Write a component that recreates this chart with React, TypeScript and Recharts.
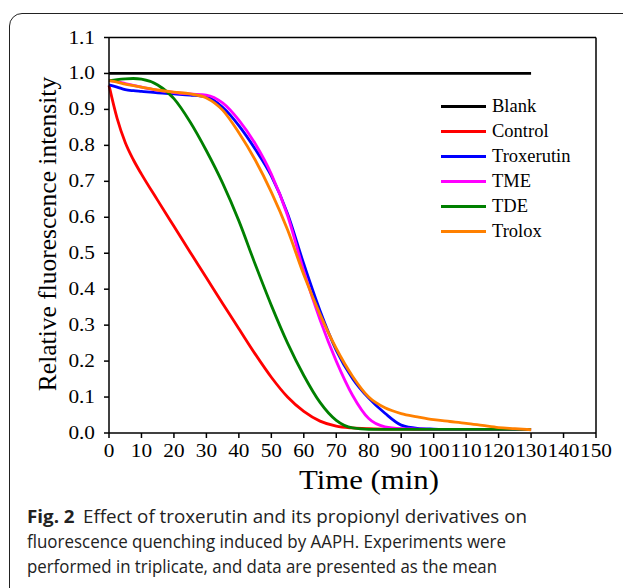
import React from "react";
import { LineChart, Line, XAxis, YAxis, ReferenceLine } from "recharts";

// time points (min)
const times = [0, 2.5, 5, 7.5, 10, 15, 20, 25, 30, 35, 40, 45, 50, 55, 60, 65, 70, 75, 80, 85, 90, 95, 100, 105, 110, 115, 120, 125, 130];

// relative fluorescence intensity
const blank = [1, 1, 1, 1, 1, 1, 1, 1, 1, 1, 1, 1, 1, 1, 1, 1, 1, 1, 1, 1, 1, 1, 1, 1, 1, 1, 1, 1, 1];
const control = [0.967, 0.875, 0.808, 0.76, 0.72, 0.647, 0.575, 0.503, 0.432, 0.36, 0.29, 0.22, 0.155, 0.1, 0.06, 0.033, 0.019, 0.014, 0.012, 0.011, 0.011, 0.01, 0.01, 0.01, 0.01, 0.01, 0.01, 0.01, 0.01];
const troxerutin = [0.968, 0.962, 0.955, 0.952, 0.95, 0.946, 0.943, 0.94, 0.935, 0.906, 0.855, 0.79, 0.715, 0.61, 0.47, 0.34, 0.23, 0.152, 0.097, 0.055, 0.022, 0.013, 0.011, 0.01, 0.01, 0.01, 0.01, 0.01, 0.01];
const tme = [0.98, 0.977, 0.972, 0.967, 0.962, 0.953, 0.947, 0.943, 0.94, 0.918, 0.87, 0.805, 0.72, 0.605, 0.45, 0.315, 0.2, 0.105, 0.04, 0.017, 0.012, 0.011, 0.01, 0.01, 0.01, 0.01, 0.01, 0.01, 0.01];
const tde = [0.98, 0.983, 0.985, 0.986, 0.984, 0.968, 0.93, 0.865, 0.785, 0.695, 0.59, 0.47, 0.355, 0.25, 0.16, 0.085, 0.035, 0.014, 0.01, 0.01, 0.01, 0.01, 0.01, 0.01, 0.01, 0.01, 0.01, 0.01, 0.01];
const trolox = [0.98, 0.976, 0.97, 0.966, 0.962, 0.954, 0.948, 0.943, 0.932, 0.898, 0.835, 0.76, 0.67, 0.565, 0.44, 0.33, 0.235, 0.158, 0.1, 0.07, 0.054, 0.045, 0.037, 0.032, 0.027, 0.021, 0.015, 0.012, 0.009];

const xTicks = [0, 10, 20, 30, 40, 50, 60, 70, 80, 90, 100, 110, 120, 130, 140, 150];
const yTicks = [0, 0.1, 0.2, 0.3, 0.4, 0.5, 0.6, 0.7, 0.8, 0.9, 1.0, 1.1];

const captionLines = [
  "Effect of troxerutin and its propionyl derivatives on",
  "fluorescence quenching induced by AAPH. Experiments were",
  "performed in triplicate, and data are presented as the mean",
];

const series = [
  { key: "blank", name: "Blank", color: "#000000" },
  { key: "control", name: "Control", color: "#ff0000" },
  { key: "troxerutin", name: "Troxerutin", color: "#0000ff" },
  { key: "tme", name: "TME", color: "#ff00ff" },
  { key: "tde", name: "TDE", color: "#008000" },
  { key: "trolox", name: "Trolox", color: "#ff8000" },
];

const data = times.map((t, i) => ({
  t,
  blank: blank[i],
  control: control[i],
  troxerutin: troxerutin[i],
  tme: tme[i],
  tde: tde[i],
  trolox: trolox[i],
}));

const serif = "'Liberation Serif', 'Times New Roman', serif";
const sans = "'Open Sans', 'Noto Sans', sans-serif";

// the original's tick labels are a little wider than plain Times
const XTick = (props: any) => {
  const { x, y, payload } = props;
  return (
    <text transform={`translate(${x},${y + 15}) scale(1.12,1)`} textAnchor="middle" fontFamily={serif} fontSize={19} fill="#000">
      {payload.value}
    </text>
  );
};

const YTick = (props: any) => {
  const { x, y, payload } = props;
  return (
    <text transform={`translate(${x},${y + 6}) scale(1.12,1)`} textAnchor="end" fontFamily={serif} fontSize={19} fill="#000">
      {Number(payload.value).toFixed(1)}
    </text>
  );
};

// legend drawn as an overlay so it doesn't shrink the plot
const ChartLegend = () => (
  <div style={{ position: "absolute", left: 441, top: 94, fontFamily: serif, fontSize: 18.5, lineHeight: 1 }}>
    {series.map((s) => (
      <div key={s.key} style={{ display: "flex", alignItems: "center", height: 25 }}>
        <span style={{ display: "inline-block", width: 45, height: 3, background: s.color, marginRight: 6 }} />
        <span style={{ color: "#000" }}>{s.name}</span>
      </div>
    ))}
  </div>
);

const YLabel = () => (
  <text x={47} y={234} transform="rotate(-90 47 234)" textAnchor="middle" dominantBaseline="central" fontFamily={serif} fontSize={25.5} fill="#000">
    Relative fluorescence intensity
  </text>
);

const XLabel = () => (
  <text x={299} y={489} fontFamily={serif} fontSize={27} fill="#000" textLength={140} lengthAdjust="spacingAndGlyphs">
    Time (min)
  </text>
);

const App = () => {
  return (
    <div style={{ position: "fixed", left: 0, top: 0, width: 623, height: 588, background: "#fff", overflow: "hidden" }}>
      <div
        style={{
          position: "absolute",
          left: 9,
          top: 13,
          width: 700,
          height: 700,
          border: "1.5px solid #222",
          borderRadius: 13,
        }}
      />
      <div style={{ position: "absolute", left: 0, top: 0 }}>
        <LineChart width={623} height={588} data={data} margin={{ top: 37.5, right: 27, bottom: 125, left: 0 }}>
          <XAxis
            dataKey="t"
            type="number"
            domain={[0, 150]}
            ticks={xTicks}
            interval={0}
            tickSize={5}
            tickMargin={4}
            height={30}
            stroke="#000"
            strokeWidth={1.5}
            tick={<XTick />}
            label={<XLabel />}
          />
          <YAxis
            type="number"
            domain={[0, 1.1]}
            ticks={yTicks}
            interval={0}
            width={109}
            tickSize={5}
            tickMargin={9}
            stroke="#000"
            strokeWidth={1.5}
            tick={<YTick />}
            label={<YLabel />}
          />
          <ReferenceLine y={1.1} stroke="#000" strokeWidth={1.5} />
          <ReferenceLine x={150} stroke="#000" strokeWidth={1.5} />
          {series.map((s) => (
            <Line
              key={s.key}
              dataKey={s.key}
              name={s.name}
              type="monotone"
              stroke={s.color}
              strokeWidth={2.8}
              dot={false}
              activeDot={false}
              isAnimationActive={false}
            />
          ))}
        </LineChart>
      </div>
      <ChartLegend />
      <svg width={623} height={100} style={{ position: "absolute", left: 0, top: 495 }}>
        <text x={27} y={28} fontFamily={sans} fontSize={18} fill="#222" textLength={500} lengthAdjust="spacingAndGlyphs">
          <tspan fontWeight="bold">Fig. 2</tspan>
          <tspan dx={8}>{captionLines[0]}</tspan>
        </text>
        <text x={27} y={53} fontFamily={sans} fontSize={18} fill="#222" textLength={479} lengthAdjust="spacingAndGlyphs">
          {captionLines[1]}
        </text>
        <text x={27} y={78} fontFamily={sans} fontSize={18} fill="#222" textLength={470} lengthAdjust="spacingAndGlyphs">
          {captionLines[2]}
        </text>
      </svg>
    </div>
  );
};

export default App;
